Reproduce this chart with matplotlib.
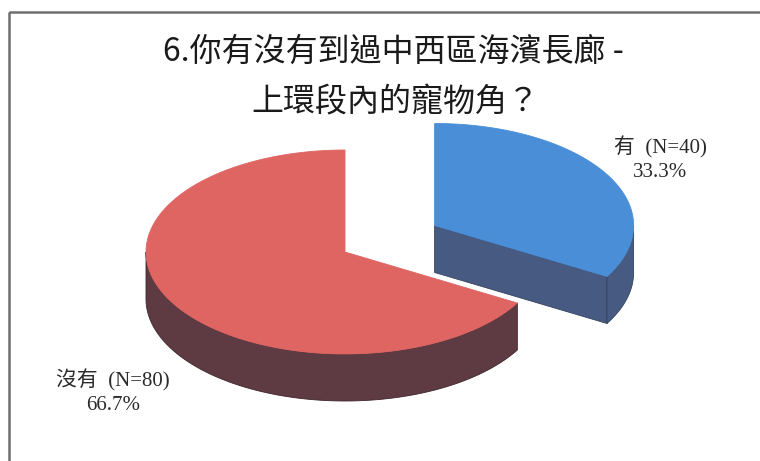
import numpy as np
import matplotlib
matplotlib.use("Agg")
import matplotlib.pyplot as plt
from matplotlib.patches import Polygon, Rectangle


### Data ###
TITLE_LINES = ["6.你有沒有到過中西區海濱長廊 -", "上環段內的寵物角？"]
labels = ["有", "沒有"]
counts = [40, 80]
explode = [0.52, 0.0]

### Style ###
TOP_COLORS = ["#4a8ed8", "#df6563"]
SIDE_COLORS = ["#475b82", "#5e3a42"]
EDGE_COLORS = ["#34425e", "#3e262b"]
LABEL_XY = [(660, 159), (113, 392)]   # label centres, pixels
LABEL_FONT = ["Liberation Serif", "Noto Sans CJK TC"]
TITLE_FONT = ["Noto Sans CJK TC", "DejaVu Sans"]

CX, CY = 345, 252        # pie centre (pixels)
RX, RY = 199, 102        # ellipse radii of the top face
DEPTH = 47               # thickness of the pie
START = 90               # first slice starts at 12 o'clock, goes clockwise


def pt(theta, cx, cy, dz=0.0):
    t = np.radians(theta)
    return cx + RX * np.cos(t), cy - RY * np.sin(t) + dz


def arc(t1, t2, cx, cy, dz=0.0, n=120):
    ts = np.linspace(t1, t2, n)
    return [pt(t, cx, cy, dz) for t in ts]


def front_ranges(t1, t2):
    # parts of [t1, t2] where the outer wall faces the viewer (sin < 0)
    out = []
    for k in (-720, -360, 0, 360):
        a, b = max(t1, 180 + k), min(t2, 360 + k)
        if b > a:
            out.append((a, b))
    return out


def draw_wedge(ax, t1, t2, cx, cy, top_c, side_c, edge_c):
    # radial faces (only visible when facing the viewer)
    faces = []
    if np.cos(np.radians(t1)) > 1e-9:
        faces.append(t1)
    if np.cos(np.radians(t2)) < -1e-9:
        faces.append(t2)
    for t in faces:
        p = pt(t, cx, cy)
        q = pt(t, cx, cy, DEPTH)
        poly = [(cx, cy), p, q, (cx, cy + DEPTH)]
        ax.add_patch(Polygon(poly, closed=True, facecolor=side_c,
                             edgecolor=edge_c, lw=0.6, zorder=2))
    # outer wall
    for a, b in front_ranges(t1, t2):
        poly = arc(a, b, cx, cy) + arc(b, a, cx, cy, DEPTH)
        ax.add_patch(Polygon(poly, closed=True, facecolor=side_c,
                             edgecolor=edge_c, lw=0.6, zorder=2))
    # top face
    poly = [(cx, cy)] + arc(t1, t2, cx, cy)
    ax.add_patch(Polygon(poly, closed=True, facecolor=top_c,
                         edgecolor=top_c, lw=0.6, zorder=3))


def main():
    fig = plt.figure(figsize=(7.6, 4.61), dpi=100)
    ax = fig.add_axes([0, 0, 1, 1])
    ax.set_xlim(0, 760)
    ax.set_ylim(461, 0)
    ax.axis("off")

    # frame (right and bottom edges fall outside the picture)
    ax.add_patch(Rectangle((9, 12), 780, 480, fill=False,
                           edgecolor="#6e6e6e", lw=1.8, zorder=1))

    total = sum(counts)
    fracs = [c / total for c in counts]
    cum = 0.0
    wedges = []
    for i, f in enumerate(fracs):
        t2 = START - cum * 360
        t1 = t2 - f * 360
        cum += f
        mid = np.radians(0.5 * (t1 + t2))
        cx = CX + explode[i] * RX * np.cos(mid)
        cy = CY - explode[i] * RY * np.sin(mid)
        wedges.append((t1, t2, cx, cy, i))

    # back slices first: the one whose centre sits higher is drawn first
    for t1, t2, cx, cy, i in sorted(wedges, key=lambda w: w[3]):
        draw_wedge(ax, t1, t2, cx, cy, TOP_COLORS[i], SIDE_COLORS[i],
                   EDGE_COLORS[i])

    for i, (lab, n) in enumerate(zip(labels, counts)):
        x, y = LABEL_XY[i]
        ax.text(x, y, f"{lab}  (N={n})\n{fracs[i] * 100:.1f}%",
                ha="center", va="center", multialignment="center",
                fontsize=15, family=LABEL_FONT, color="#2a2a2a",
                linespacing=1.35, zorder=5)

    ax.text(393, 52, TITLE_LINES[0], ha="center", va="center",
            fontsize=23, family=TITLE_FONT, fontweight="medium",
            color="#1a1a1a", zorder=5)
    ax.text(395, 102, TITLE_LINES[1], ha="center", va="center",
            fontsize=23, family=TITLE_FONT, fontweight="medium",
            color="#1a1a1a", zorder=5)

    fig.savefig("out.png", dpi=100)


if __name__ == "__main__":
    main()
